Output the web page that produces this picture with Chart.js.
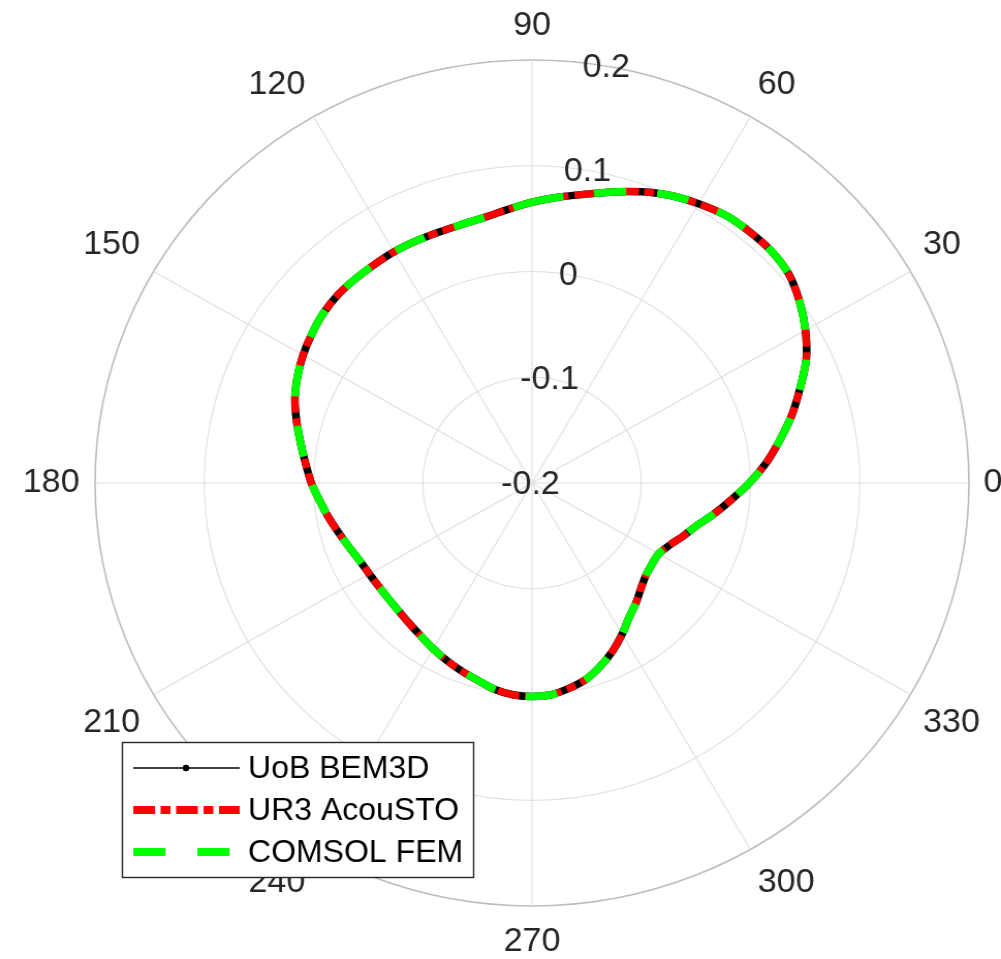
<!DOCTYPE html>
<html>
<head>
<meta charset="utf-8">
<title>Directivity</title>
<script src="https://cdn.jsdelivr.net/npm/chart.js@4.4.1/dist/chart.umd.min.js"></script>
<style>
  html, body { margin: 0; padding: 0; background: #ffffff; }
  canvas { display: block; }
</style>
</head>
<body>
<canvas id="polar" width="969" height="959" style="width:1001px;height:959px"></canvas>
<script>
// Polar angle of each sample, degrees, counter-clockwise from the +x axis
const angles = [
  0, 5, 10, 15, 20, 25, 30, 35, 40, 45, 50, 55,
  60, 65, 70, 75, 80, 85, 90, 95, 100, 105, 110, 115,
  120, 125, 130, 135, 140, 145, 150, 155, 160, 165, 170, 175,
  180, 185, 190, 195, 200, 205, 210, 215, 220, 225, 230, 235,
  240, 245, 250, 255, 260, 265, 270, 275, 280, 285, 290, 295,
  300, 305, 310, 315, 320, 325, 330, 335, 340, 345, 350, 355
];

// Radial value of each solver at those angles
const uobBem3d = [
  -0.001, 0.015, 0.030, 0.046, 0.061, 0.077, 0.089, 0.099, 0.107, 0.110, 0.110, 0.109,
  0.105, 0.100, 0.093, 0.085, 0.0772, 0.0712, 0.0655, 0.0595, 0.0548, 0.0527, 0.0521, 0.0523,
  0.0525, 0.0520, 0.0518, 0.0515, 0.0495, 0.046, 0.042, 0.037, 0.031, 0.023, 0.015, 0.008,
  0.002, -0.005, -0.011, -0.017, -0.022, -0.026, -0.028, -0.029, -0.029, -0.028, -0.026, -0.023,
  -0.019, -0.015, -0.011, -0.007, -0.002, 0.001, 0.002, 0.001, -0.003, -0.008, -0.016, -0.025,
  -0.035, -0.045, -0.052, -0.059, -0.064, -0.066, -0.066, -0.061, -0.053, -0.044, -0.031, -0.017
];
const ur3Acousto = [
  -0.001, 0.015, 0.030, 0.046, 0.061, 0.077, 0.089, 0.099, 0.107, 0.110, 0.110, 0.109,
  0.105, 0.100, 0.093, 0.085, 0.0772, 0.0712, 0.0655, 0.0595, 0.0548, 0.0527, 0.0521, 0.0523,
  0.0525, 0.0520, 0.0518, 0.0515, 0.0495, 0.046, 0.042, 0.037, 0.031, 0.023, 0.015, 0.008,
  0.002, -0.005, -0.011, -0.017, -0.022, -0.026, -0.028, -0.029, -0.029, -0.028, -0.026, -0.023,
  -0.019, -0.015, -0.011, -0.007, -0.002, 0.001, 0.002, 0.001, -0.003, -0.008, -0.016, -0.025,
  -0.035, -0.045, -0.052, -0.059, -0.064, -0.066, -0.066, -0.061, -0.053, -0.044, -0.031, -0.017
];
const comsolFem = [
  -0.001, 0.015, 0.030, 0.046, 0.061, 0.077, 0.089, 0.099, 0.107, 0.110, 0.110, 0.109,
  0.105, 0.100, 0.093, 0.085, 0.0772, 0.0712, 0.0655, 0.0595, 0.0548, 0.0527, 0.0521, 0.0523,
  0.0525, 0.0520, 0.0518, 0.0515, 0.0495, 0.046, 0.042, 0.037, 0.031, 0.023, 0.015, 0.008,
  0.002, -0.005, -0.011, -0.017, -0.022, -0.026, -0.028, -0.029, -0.029, -0.028, -0.026, -0.023,
  -0.019, -0.015, -0.011, -0.007, -0.002, 0.001, 0.002, 0.001, -0.003, -0.008, -0.016, -0.025,
  -0.035, -0.045, -0.052, -0.059, -0.064, -0.066, -0.066, -0.061, -0.053, -0.044, -0.031, -0.017
];

const seriesNames = ['UoB BEM3D', 'UR3 AcouSTO', 'COMSOL FEM'];

// Radial axis: range, ticks and the angle the tick labels sit on
const radialTicks = [-0.2, -0.1, 0, 0.1, 0.2];
const radialTickLabels = ['-0.2', '-0.1', '0', '0.1', '0.2'];
const radialLabelAngle = 80;

// Angular axis ticks (degrees)
const angleTicks = [0, 30, 60, 90, 120, 150, 180, 210, 240, 270, 300, 330];
const angleTickLabels = ['0', '30', '60', '90', '120', '150', '180', '210', '240', '270', '300', '330'];

// The radial scale puts index 0 at the top and walks clockwise,
// so index i carries the sample at (90 - i*step) degrees.
const step = angles[1] - angles[0];
const count = angles.length;
const indexOfAngle = a => ((((90 - a) / step) % count) + count) % count;
const spokeAngles = Array.from({ length: count }, (_, i) => (((90 - i * step) % 360) + 360) % 360);
const onSpokes = values => spokeAngles.map(a => values[angles.indexOf(a)]);

const TEXT = '#262626';
const FONT = '"Liberation Sans", Arial, Helvetica, sans-serif';

const polarText = {
  id: 'polarText',
  afterDraw(chart) {
    const scale = chart.scales.r;
    const ctx = chart.ctx;
    const R = scale.drawingArea;

    ctx.save();
    // angular tick labels around the rim
    const size = 33;
    const lh = size * 1.2;
    ctx.font = size + 'px ' + FONT;
    ctx.fillStyle = TEXT;
    ctx.textBaseline = 'middle';
    angleTicks.forEach((a, k) => {
      const p = scale.getPointPosition(indexOfAngle(a), R + 14);
      const cw = (((90 - a) % 360) + 360) % 360;
      let x = p.x, y = p.y;
      ctx.textAlign = (cw === 0 || cw === 180) ? 'center' : (cw < 180 ? 'left' : 'right');
      if (cw === 90 || cw === 270) {
        // vertically centred on the spoke
      } else if (cw < 90 || cw > 270) {
        y -= lh / 2;
      } else {
        y += lh / 2;
      }
      if (a > 180) y += 2;
      if (a > 90 && a < 270) x -= 1;
      ctx.fillText(angleTickLabels[k], x, y);
    });

    // radial tick labels along the 80 degree spoke
    ctx.textAlign = 'center';
    const ri = indexOfAngle(radialLabelAngle);
    radialTicks.forEach((v, k) => {
      const p = scale.getPointPositionForValue(ri, v);
      ctx.fillText(radialTickLabels[k], p.x - 1.5, p.y + 1.5);
    });
    ctx.restore();

    // legend box
    const box = { x: 118.5, y: 742.5, w: 340, h: 135 };
    const rows = [768, 810, 852];
    ctx.save();
    ctx.fillStyle = '#ffffff';
    ctx.fillRect(box.x, box.y, box.w, box.h);
    ctx.strokeStyle = TEXT;
    ctx.lineWidth = 1.4;
    ctx.strokeRect(box.x, box.y, box.w, box.h);
    chart.data.datasets.forEach((ds, k) => {
      const y = rows[k];
      ctx.save();
      ctx.strokeStyle = ds.borderColor;
      ctx.lineWidth = ds.legendWidth || ds.borderWidth;
      ctx.lineCap = 'butt';
      ctx.setLineDash(ds.legendDash || ds.borderDash || []);
      ctx.beginPath();
      ctx.moveTo(129, y);
      ctx.lineTo(232, y);
      ctx.stroke();
      if (ds.legendMarker) {
        ctx.setLineDash([]);
        ctx.fillStyle = ds.borderColor;
        ctx.beginPath();
        ctx.arc(180, y, ds.legendMarker, 0, Math.PI * 2);
        ctx.fill();
      }
      ctx.restore();
      ctx.font = '31px ' + FONT;
      ctx.fillStyle = '#000000';
      ctx.textAlign = 'left';
      ctx.textBaseline = 'middle';
      ctx.fillText(ds.label, 240, y + 1);
    });
    ctx.restore();
  }
};

new Chart(document.getElementById('polar'), {
  type: 'radar',
  data: {
    labels: spokeAngles.map(String),
    datasets: [
      {
        label: seriesNames[0],
        data: onSpokes(uobBem3d),
        borderColor: '#000000',
        borderWidth: 7.5,
        legendWidth: 1.5,
        legendMarker: 3.2,
        order: 3
      },
      {
        label: seriesNames[1],
        data: onSpokes(ur3Acousto),
        borderColor: '#ff0000',
        borderWidth: 7,
        borderDash: [21, 5.5, 9.5, 5.5],
        legendWidth: 8,
        order: 2
      },
      {
        label: seriesNames[2],
        data: onSpokes(comsolFem),
        borderColor: '#00ff00',
        borderWidth: 7.5,
        borderDash: [31, 30],
        legendWidth: 8,
        legendDash: [31, 31],
        order: 1
      }
    ]
  },
  options: {
    responsive: false,
    animation: false,
    devicePixelRatio: 1,
    events: [],
    layout: { padding: { left: 92, top: 60, right: 31, bottom: 53 } },
    elements: {
      line: { fill: false, tension: 0.3, borderCapStyle: 'butt', borderJoinStyle: 'round' },
      point: { radius: 0, hoverRadius: 0 }
    },
    plugins: {
      legend: { display: false },
      tooltip: { enabled: false }
    },
    scales: {
      r: {
        min: radialTicks[0],
        max: radialTicks[radialTicks.length - 1],
        startAngle: 0,
        beginAtZero: false,
        ticks: { display: false, stepSize: radialTicks[1] - radialTicks[0] },
        pointLabels: { display: false },
        grid: {
          circular: true,
          color: c => c.index === radialTicks.length - 1 ? '#bcbcbc' : '#dedede',
          lineWidth: c => c.index === radialTicks.length - 1 ? 1.6 : 1.1
        },
        angleLines: {
          color: '#dedede',
          lineWidth: c => (spokeAngles[c.index] % 30 === 0 ? 1.1 : 0)
        }
      }
    }
  },
  plugins: [polarText]
});
</script>
</body>
</html>
